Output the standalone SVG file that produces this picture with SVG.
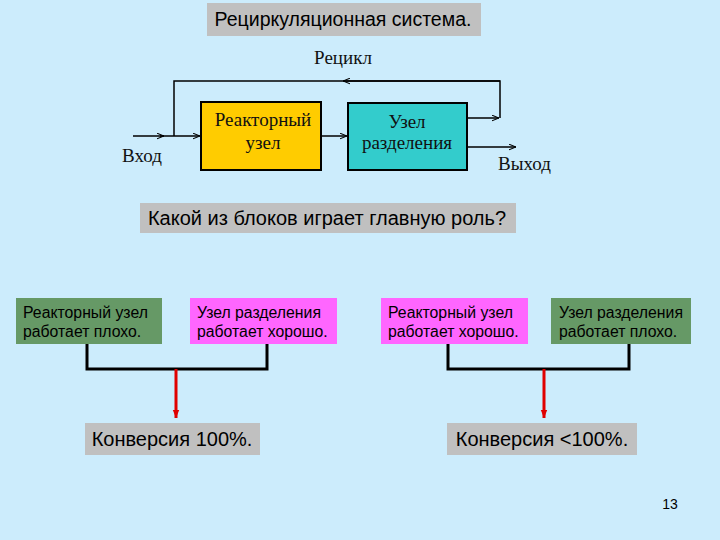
<svg xmlns="http://www.w3.org/2000/svg" width="720" height="540" viewBox="0 0 720 540">
<defs>
<style>
.sans{font-family:"Liberation Sans",Arial,sans-serif;fill:#000}
.serif{font-family:"Liberation Serif","Times New Roman",serif;fill:#111}
.gray{fill:#C0C0C0}
.blk{stroke:#000;stroke-width:1.5;fill:none}
.thick{stroke:#000;stroke-width:3;fill:none}
.red{stroke:#E00000;stroke-width:3;fill:none}
</style>
<marker id="ah" viewBox="0 0 10 10" refX="10" refY="5" markerWidth="7" markerHeight="7" orient="auto" markerUnits="userSpaceOnUse"><path d="M0,1 L10,5 L0,9" fill="none" stroke="#000" stroke-width="1.5"/></marker>
<marker id="rah" viewBox="0 0 10 10" refX="10" refY="5" markerWidth="9" markerHeight="8" orient="auto" markerUnits="userSpaceOnUse"><path d="M0,1 L10,5 L0,9 z" fill="#E00000"/></marker>
</defs>
<rect width="720" height="540" fill="#CCECFC"/>

<g id="title">
<rect class="gray" x="207" y="3" width="274" height="33"/>
<text class="sans" x="343" y="26" font-size="19.5" text-anchor="middle">Рециркуляционная система.</text>
</g>

<g id="connectors">
<path class="blk" d="M133,136 H164" marker-end="url(#ah)"/>
<path class="blk" d="M160,136 H200" marker-end="url(#ah)"/>
<path class="blk" d="M174,136 V81 H500 V118"/>
<path class="blk" d="M500,81 H343" marker-end="url(#ah)"/>
<path class="blk" d="M467,118 H499" marker-end="url(#ah)"/>
<path class="blk" d="M321,136 H347" marker-end="url(#ah)"/>
<path class="blk" d="M467,147 H516" marker-end="url(#ah)"/>
<path class="thick" d="M87,344 V369 H267 V344"/>
<path class="red" d="M176,369 V418" marker-end="url(#rah)"/>
<path class="thick" d="M448,344 V369 H629 V344"/>
<path class="red" d="M544,369 V418" marker-end="url(#rah)"/>
</g>

<g id="recycle-label"><text class="serif" x="343" y="64" font-size="19" text-anchor="middle">Рецикл</text></g>
<g id="input-label"><text class="serif" x="122" y="162" font-size="19">Вход</text></g>
<g id="output-label"><text class="serif" x="498" y="170" font-size="19">Выход</text></g>

<g id="reactor">
<rect x="201" y="102" width="120" height="68" fill="#FFCC00" stroke="#000" stroke-width="2"/>
<text class="serif" x="263" y="126" font-size="19" text-anchor="middle">Реакторный</text>
<text class="serif" x="263" y="149" font-size="19" text-anchor="middle">узел</text>
</g>

<g id="separator">
<rect x="348" y="103" width="119" height="67" fill="#33CCCC" stroke="#000" stroke-width="2"/>
<text class="serif" x="407" y="128" font-size="19" text-anchor="middle">Узел</text>
<text class="serif" x="407" y="149" font-size="19" text-anchor="middle">разделения</text>
</g>

<g id="question">
<rect class="gray" x="140" y="203" width="376" height="30"/>
<text class="sans" x="327" y="225" font-size="20" text-anchor="middle">Какой из блоков играет главную роль?</text>
</g>

<g id="box-reactor-bad">
<rect x="16" y="298" width="146" height="46" fill="#669966"/>
<text class="sans" x="23" y="318" font-size="15.8">Реакторный узел</text>
<text class="sans" x="23" y="337" font-size="15.8">работает плохо.</text>
</g>
<g id="box-separator-good">
<rect x="190" y="298" width="147" height="46" fill="#FF66FF"/>
<text class="sans" x="197" y="318" font-size="15.8">Узел разделения</text>
<text class="sans" x="197" y="337" font-size="15.8">работает хорошо.</text>
</g>
<g id="box-reactor-good">
<rect x="381" y="298" width="147" height="46" fill="#FF66FF"/>
<text class="sans" x="388" y="318" font-size="15.8">Реакторный узел</text>
<text class="sans" x="388" y="337" font-size="15.8">работает хорошо.</text>
</g>
<g id="box-separator-bad">
<rect x="551" y="298" width="140" height="46" fill="#669966"/>
<text class="sans" x="559" y="318" font-size="15.8">Узел разделения</text>
<text class="sans" x="559" y="337" font-size="15.8">работает плохо.</text>
</g>

<g id="conv-100">
<rect class="gray" x="85" y="423" width="175" height="32"/>
<text class="sans" x="172" y="446" font-size="20" text-anchor="middle">Конверсия 100%.</text>
</g>
<g id="conv-less">
<rect class="gray" x="447" y="423" width="190" height="32"/>
<text class="sans" x="542" y="446" font-size="20" text-anchor="middle">Конверсия &lt;100%.</text>
</g>

<g id="page"><text class="sans" x="670" y="509" font-size="14" text-anchor="middle">13</text></g>
</svg>
